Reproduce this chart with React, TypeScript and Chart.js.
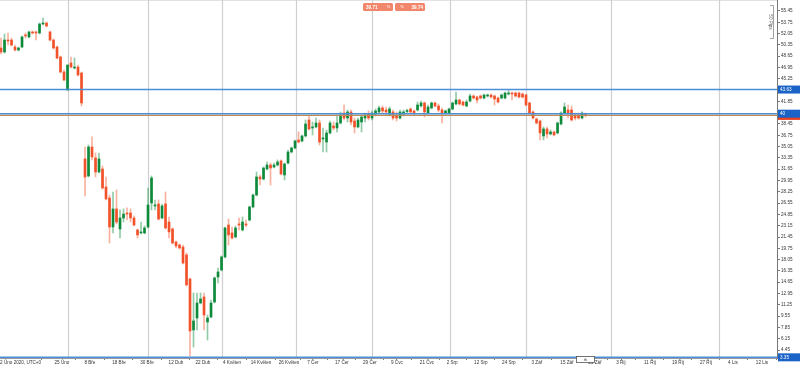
import React, { useEffect, useRef } from "react";
import { Chart, registerables } from "chart.js";
Chart.register(...registerables);

// ---- Data (daily candles, price) ----
const opens = [
  49.88, 49.28, 51.08, 51.08, 50.03, 49.58, 50.03, 51.84, 51.54, 52.29,
  52.29, 52.14, 53.49, 53.64, 52.29, 51.08, 50.03, 48.53, 46.27, 43.56,
  47.62, 46.87, 47.02, 46.12, 33.19, 30.63, 34.99, 33.34, 31.23, 31.68,
  28.97, 27.32, 22.96, 25.67, 22.66, 24.31, 25.06, 25.06, 24.31, 22.51,
  22.06, 22.06, 22.96, 26.57, 26.12, 26.42, 24.31, 26.42, 23.71, 22.66,
  20.70, 20.25, 19.95, 18.75, 15.14, 7.47, 9.27, 11.53, 12.43, 8.67,
  9.42, 11.68, 15.44, 16.49, 18.45, 23.26, 22.06, 21.46, 23.41, 22.51,
  23.41, 24.01, 25.97, 27.77, 30.48, 30.18, 31.68, 32.28, 31.98, 32.28,
  32.89, 30.78, 32.58, 34.24, 34.84, 36.04, 35.89, 36.65, 39.05, 37.85,
  38.00, 38.60, 36.20, 35.74, 37.10, 38.15, 37.85, 38.60, 40.10, 39.35,
  40.26, 38.90, 38.00, 38.75, 39.35, 39.95, 39.35, 39.95, 40.26, 40.86,
  40.56, 39.95, 40.26, 39.80, 39.35, 39.95, 40.33, 40.71, 40.41, 40.56,
  41.16, 41.61, 40.10, 40.86, 41.61, 41.16, 40.56, 40.10, 40.10, 40.71,
  41.46, 42.06, 41.76, 41.16, 41.91, 42.66, 42.51, 42.66, 42.36, 42.66,
  42.81, 42.66, 42.36, 42.36, 42.36, 42.96, 43.11, 43.11, 43.11, 42.96,
  42.81, 41.61, 40.26, 39.20, 38.90, 36.65, 37.70, 36.95, 37.25, 37.10,
  38.45, 40.10, 40.56, 40.56, 39.80, 39.80, 39.35, 39.80,
];
const highs = [
  51.38, 51.99, 52.14, 51.38, 50.33, 50.03, 51.69, 52.14, 52.44, 52.44,
  52.44, 53.64, 54.39, 53.79, 52.44, 51.23, 50.18, 48.68, 46.57, 47.32,
  48.53, 48.38, 47.32, 46.27, 34.99, 35.29, 36.50, 34.09, 34.09, 32.13,
  30.48, 27.77, 28.22, 28.52, 25.52, 25.67, 25.82, 25.67, 24.61, 22.66,
  23.71, 23.11, 28.82, 30.63, 27.02, 27.02, 26.42, 28.22, 24.46, 22.81,
  20.85, 20.40, 20.25, 19.05, 15.29, 13.03, 13.03, 13.03, 13.03, 9.72,
  11.98, 15.44, 16.79, 18.60, 22.96, 24.16, 22.96, 23.11, 24.31, 24.46,
  24.01, 26.12, 27.92, 31.23, 30.78, 31.98, 32.73, 32.58, 32.58, 33.04,
  33.04, 32.58, 34.54, 34.99, 36.04, 37.25, 36.80, 39.05, 39.80, 38.75,
  39.35, 39.05, 37.85, 37.55, 38.90, 38.75, 39.80, 40.26, 41.31, 40.56,
  40.56, 39.35, 39.35, 39.80, 40.10, 40.41, 40.41, 40.71, 41.16, 41.16,
  41.01, 41.01, 40.56, 40.26, 40.56, 40.56, 40.71, 40.86, 40.56, 41.76,
  41.91, 41.76, 41.31, 41.76, 41.76, 41.46, 40.86, 40.56, 40.86, 41.76,
  43.26, 42.21, 41.91, 42.06, 42.96, 42.81, 42.66, 42.81, 42.96, 42.96,
  42.96, 42.81, 42.51, 42.96, 43.26, 43.56, 43.26, 43.26, 43.26, 43.11,
  42.96, 41.76, 40.41, 39.35, 39.05, 38.00, 38.00, 37.55, 37.40, 38.75,
  40.26, 41.61, 41.31, 41.16, 40.10, 40.10, 40.26, 40.10,
];
const lows = [
  48.98, 49.13, 50.33, 50.18, 49.43, 49.43, 49.88, 51.38, 51.38, 51.99,
  51.08, 51.99, 53.34, 53.04, 50.93, 49.73, 48.23, 46.12, 44.92, 43.56,
  46.87, 46.72, 45.67, 41.16, 27.62, 30.48, 33.04, 30.48, 31.08, 28.67,
  27.02, 20.55, 22.06, 23.41, 21.30, 23.71, 24.01, 23.71, 23.11, 21.30,
  21.91, 21.91, 22.81, 25.52, 25.52, 24.01, 24.16, 22.66, 21.30, 20.40,
  19.80, 19.65, 17.39, 14.09, 3.56, 4.91, 7.47, 11.38, 7.47, 5.96,
  9.27, 11.53, 14.54, 16.34, 18.30, 20.25, 21.15, 21.30, 22.51, 22.36,
  22.96, 23.86, 25.82, 27.62, 29.28, 30.03, 31.53, 29.28, 31.83, 32.13,
  30.78, 30.03, 32.43, 34.09, 34.69, 35.59, 35.74, 36.50, 37.55, 36.80,
  37.85, 35.29, 34.24, 34.24, 36.95, 37.55, 37.25, 38.45, 39.05, 38.75,
  38.30, 37.10, 37.85, 37.25, 38.75, 39.05, 39.05, 39.65, 40.10, 40.10,
  39.80, 39.65, 39.05, 38.90, 39.20, 39.65, 40.10, 40.10, 39.80, 40.41,
  41.01, 39.50, 39.95, 40.71, 41.01, 40.26, 38.60, 39.95, 39.95, 40.56,
  41.31, 41.31, 41.16, 41.01, 41.76, 42.21, 41.61, 42.21, 42.21, 42.51,
  42.36, 41.31, 41.61, 42.21, 42.21, 42.81, 42.06, 42.51, 42.36, 42.36,
  41.16, 39.95, 39.20, 38.45, 36.04, 36.04, 36.34, 36.80, 36.65, 36.95,
  38.30, 39.95, 39.35, 38.90, 39.05, 39.20, 39.20, 39.50,
];
const closes = [
  49.28, 51.08, 50.93, 50.33, 49.58, 49.88, 51.54, 51.69, 52.29, 52.14,
  52.14, 53.49, 53.64, 53.19, 51.08, 49.88, 48.38, 46.27, 45.07, 47.32,
  47.02, 47.02, 45.82, 41.61, 30.48, 34.99, 33.49, 31.23, 33.19, 28.82,
  27.17, 22.96, 25.67, 23.71, 24.31, 24.91, 24.91, 24.31, 23.26, 21.76,
  22.21, 22.81, 26.27, 30.33, 26.27, 24.16, 26.12, 22.81, 22.21, 20.55,
  20.10, 19.80, 17.54, 14.24, 7.32, 8.82, 11.53, 12.13, 9.72, 9.27,
  11.53, 15.29, 16.19, 18.45, 22.81, 21.76, 21.30, 22.81, 23.26, 23.71,
  23.26, 25.97, 27.77, 30.48, 30.18, 31.83, 32.28, 31.83, 32.28, 32.73,
  30.93, 32.43, 34.24, 34.84, 35.89, 35.74, 36.65, 38.45, 37.70, 38.00,
  38.60, 35.74, 36.35, 37.10, 38.60, 37.85, 38.60, 39.80, 39.35, 40.26,
  38.75, 38.00, 39.05, 39.50, 39.80, 39.35, 40.10, 40.41, 40.86, 40.41,
  40.26, 40.71, 39.35, 39.35, 40.26, 40.26, 40.48, 40.26, 40.10, 41.31,
  41.61, 40.26, 41.01, 41.61, 41.16, 40.56, 40.10, 40.41, 40.71, 41.61,
  42.06, 41.46, 41.31, 41.76, 42.66, 42.36, 42.06, 42.36, 42.81, 42.81,
  42.51, 42.21, 41.76, 42.81, 43.11, 43.11, 42.96, 42.66, 42.51, 42.51,
  41.31, 40.10, 39.35, 38.60, 37.10, 37.70, 36.95, 37.25, 36.80, 38.60,
  40.10, 41.01, 40.10, 39.05, 39.35, 39.35, 40.10, 39.74,
];

// ---- Axes ----
const xTickPositions = [
  5.6, 17.4, 25.4, 33.7, 41.7, 50.0, 57.7, 66.0, 74.3, 82.3, 89.1, 97.4, 105.4, 113.1,
  121.7, 128.9, 137.1, 145.1, 153.1, 161.7, 169.7, 177.1, 185.4, 193.4, 201.4, 209.1, 217.4,
];
const xTickLabels = [
  "2 Úno 2020, UTC+0", "25 Úno", "8 Bře", "18 Bře", "30 Bře", "12 Dub", "22 Dub",
  "4 Květen", "14 Květen", "26 Květen", "7 Čer", "17 Čer", "29 Čer", "9 Čvc", "21 Čvc",
  "2 Srp", "12 Srp", "24 Srp", "3 Zář", "15 Zář", "25 Zář", "3 Říj", "11 Říj", "19 Říj",
  "27 Říj", "4 Lis", "12 Lis",
];
const monthGridPositions = [19.1, 42.0, 63.1, 84.3, 106.0, 128.3, 150.0, 174.3, 205.1];
const yTickValues = [
  55.45, 53.75, 52.05, 50.35, 48.65, 46.95, 45.25, 41.85, 38.45, 36.75, 35.05, 33.35,
  31.65, 29.95, 28.25, 26.55, 24.85, 23.15, 21.45, 19.75, 18.05, 16.35, 14.65, 12.95,
  11.25, 9.55, 7.85, 6.15, 4.45,
];
const levelValues = [43.63, 40, 3.35];
const levelLabels = ["43.63", "40", "3.35"];
const currentPrice = 39.74;
const quoteLabels = ["39.71", "39.74"];
const pipsLabel = "50 Pips";

const Y_MIN = 3.25;
const Y_MAX = 57.1;
const X_MIN = -0.29;
const X_MAX = 221.7;

const UP = "#0e8a3b";
const DOWN = "#f2522a";
const UP_WICK = "rgba(14,138,59,0.45)";
const DOWN_WICK = "rgba(242,82,42,0.45)";
const FONT = "'Liberation Sans', Arial, sans-serif";

function roundRect(ctx: CanvasRenderingContext2D, x: number, y: number, w: number, h: number, r: number) {
  ctx.beginPath();
  ctx.moveTo(x + r, y);
  ctx.lineTo(x + w - r, y);
  ctx.quadraticCurveTo(x + w, y, x + w, y + r);
  ctx.lineTo(x + w, y + h - r);
  ctx.quadraticCurveTo(x + w, y + h, x + w - r, y + h);
  ctx.lineTo(x + r, y + h);
  ctx.quadraticCurveTo(x, y + h, x, y + h - r);
  ctx.lineTo(x, y + r);
  ctx.quadraticCurveTo(x, y, x + r, y);
  ctx.closePath();
}

const overlayPlugin = {
  id: "overlay",
  beforeDatasetsDraw(chart: any) {
    const { ctx, chartArea, scales } = chart;
    const x = scales.x;
    ctx.save();
    ctx.strokeStyle = "#e2e2e2";
    ctx.lineWidth = 1;
    ctx.beginPath();
    ctx.moveTo(chartArea.left, 0.5);
    ctx.lineTo(chartArea.right, 0.5);
    ctx.stroke();
    ctx.strokeStyle = "#cfcfcf";
    ctx.lineWidth = 1.2;
    monthGridPositions.forEach((p) => {
      const px = Math.round(x.getPixelForValue(p)) + 0.5;
      ctx.beginPath();
      ctx.moveTo(px, chartArea.top);
      ctx.lineTo(px, chartArea.bottom);
      ctx.stroke();
    });
    ctx.restore();
  },
  afterDatasetsDraw(chart: any) {
    const { ctx, chartArea, scales } = chart;
    const y = scales.y;
    ctx.save();
    const cy = y.getPixelForValue(currentPrice);
    ctx.strokeStyle = "#bf8c52";
    ctx.lineWidth = 1.2;
    ctx.beginPath();
    ctx.moveTo(chartArea.left, cy);
    ctx.lineTo(chartArea.right, cy);
    ctx.stroke();
    ctx.strokeStyle = "#4b8fd8";
    ctx.lineWidth = 1.5;
    levelValues.forEach((v) => {
      const py = y.getPixelForValue(v);
      ctx.beginPath();
      ctx.moveTo(chartArea.left, py);
      ctx.lineTo(chartArea.right, py);
      ctx.stroke();
    });
    ctx.restore();
  },
  afterDraw(chart: any) {
    const { ctx, chartArea, scales, width } = chart;
    const y = scales.y;
    const x = scales.x;
    ctx.save();
    ctx.textBaseline = "middle";
    const cy = y.getPixelForValue(currentPrice);
    ctx.fillStyle = "#e9401f";
    ctx.fillRect(chartArea.right + 1, cy - 3.5, width - chartArea.right - 1, 8);
    levelValues.forEach((v, i) => {
      const py = y.getPixelForValue(v);
      ctx.fillStyle = "#1b63c6";
      ctx.fillRect(chartArea.right + 1, py - 4, width - chartArea.right - 1, 8);
      ctx.fillStyle = "#ffffff";
      ctx.font = `4.6px ${FONT}`;
      ctx.textAlign = "left";
      ctx.fillText(levelLabels[i], chartArea.right + 3, py + 0.3);
    });
    ctx.fillStyle = "#f2866a";
    roundRect(ctx, 363, 3, 30, 8, 1.5);
    ctx.fill();
    roundRect(ctx, 395, 3, 30, 8, 1.5);
    ctx.fill();
    ctx.fillStyle = "#ffffff";
    ctx.font = `bold 4.6px ${FONT}`;
    ctx.textAlign = "left";
    ctx.fillText(quoteLabels[0], 366, 7.3);
    ctx.textAlign = "right";
    ctx.fillText(quoteLabels[1], 423, 7.3);
    ctx.font = `4px ${FONT}`;
    ctx.textAlign = "center";
    ctx.fillText("%", 388.5, 7.3);
    ctx.fillText("%", 402, 7.3);
    ctx.strokeStyle = "#8a8a8a";
    ctx.lineWidth = 0.8;
    ctx.beginPath();
    ctx.moveTo(770, 5.5);
    ctx.lineTo(773.5, 5.5);
    ctx.lineTo(773.5, 38.5);
    ctx.lineTo(770, 38.5);
    ctx.stroke();
    ctx.translate(770, 22);
    ctx.rotate(Math.PI / 2);
    ctx.fillStyle = "#555";
    ctx.font = `4.6px ${FONT}`;
    ctx.textAlign = "center";
    ctx.fillText(pipsLabel, 0, 0);
    ctx.setTransform(1, 0, 0, 1, 0, 0);
    const lx = x.getPixelForValue(opens.length - 1);
    ctx.fillStyle = "#ffffff";
    ctx.strokeStyle = "#555";
    ctx.lineWidth = 0.8;
    ctx.fillRect(lx - 9, chartArea.bottom - 1.5, 18, 6);
    ctx.strokeRect(lx - 9, chartArea.bottom - 1.5, 18, 6);
    ctx.fillStyle = "#333";
    ctx.font = `4px ${FONT}`;
    ctx.textAlign = "center";
    ctx.fillText("th", lx, chartArea.bottom + 1.6);
    ctx.restore();
  },
};

export default function App() {
  const ref = useRef<HTMLCanvasElement>(null);
  useEffect(() => {
    if (!ref.current) return;
    const idx = opens.map((_, i) => i);
    const isUp = idx.map((i) => closes[i] >= opens[i]);
    const chart = new Chart(ref.current, {
      type: "bar",
      data: {
        datasets: [
          {
            label: "body",
            data: idx.map((i) => ({ x: i, y: [Math.min(opens[i], closes[i]), Math.max(opens[i], closes[i])] })) as any,
            backgroundColor: isUp.map((u) => (u ? UP : DOWN)),
            barThickness: 2,
            minBarLength: 1,
            grouped: false,
            borderWidth: 0,
          } as any,
          {
            label: "wick",
            data: idx.map((i) => ({ x: i, y: [lows[i], highs[i]] })) as any,
            backgroundColor: isUp.map((u) => (u ? UP_WICK : DOWN_WICK)),
            barThickness: 1,
            grouped: false,
            borderWidth: 0,
          } as any,
        ],
      },
      options: {
        animation: false,
        responsive: false,
        maintainAspectRatio: false,
        devicePixelRatio: 1,
        layout: { padding: 0 },
        plugins: { legend: { display: false }, tooltip: { enabled: false } },
        scales: {
          x: {
            type: "linear",
            min: X_MIN,
            max: X_MAX,
            offset: false,
            afterBuildTicks: (axis: any) => {
              axis.ticks = xTickPositions.map((v) => ({ value: v }));
            },
            afterFit: (s: any) => {
              s.height = 10;
              s.paddingLeft = 0;
              s.paddingRight = 0;
            },
            ticks: {
              autoSkip: false,
              maxRotation: 0,
              minRotation: 0,
              padding: 0,
              color: "#333",
              font: { size: 4.6, family: FONT },
              callback: (_v: any, i: number) => xTickLabels[i],
            },
            grid: { display: true, drawOnChartArea: false, tickLength: 2, color: "#777" },
            border: { display: true, color: "#9a9a9a" },
          },
          y: {
            type: "linear",
            position: "right",
            min: Y_MIN,
            max: Y_MAX,
            afterBuildTicks: (axis: any) => {
              axis.ticks = yTickValues.map((v) => ({ value: v }));
            },
            afterFit: (s: any) => {
              s.width = 23;
              s.paddingTop = 0;
              s.paddingBottom = 0;
            },
            ticks: {
              autoSkip: false,
              padding: 1,
              color: "#333",
              font: { size: 4.6, family: FONT },
              callback: (v: any) => Number(v).toFixed(2),
            },
            grid: { display: true, drawOnChartArea: false, tickLength: 3, color: "#777" },
            border: { display: true, color: "#777" },
          },
        },
      } as any,
      plugins: [overlayPlugin],
    });
    return () => chart.destroy();
  }, []);
  return (
    <div style={{ position: "fixed", left: 0, top: 0, width: 800, height: 368, background: "#fff" }}>
      <canvas ref={ref} width={800} height={368} style={{ width: 800, height: 368, display: "block" }} />
    </div>
  );
}
